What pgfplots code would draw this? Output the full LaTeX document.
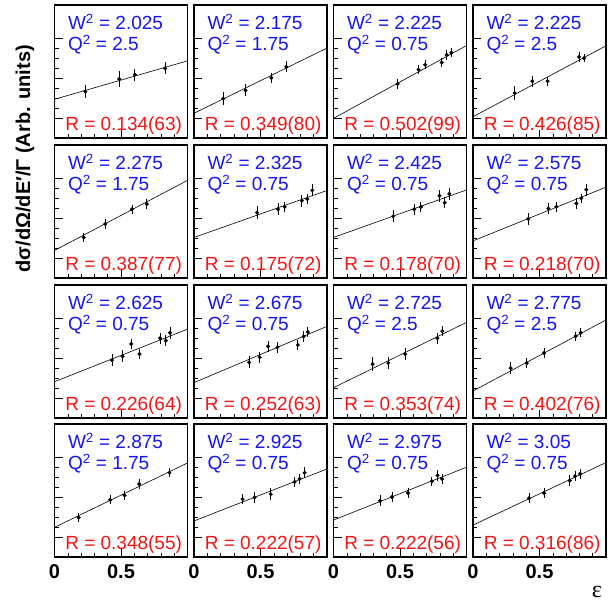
\documentclass[border=0pt]{standalone}
\usepackage{pgfplots}
\pgfplotsset{compat=1.18}
\usepackage{fontspec}
\setmainfont{Liberation Sans}
\newfontfamily\seriffont{Liberation Serif}
\definecolor{rootblue}{RGB}{20,20,245}
\definecolor{rootred}{RGB}{245,20,20}
\pgfplotsset{
  panel/.style={
    scale only axis, width=133pt, height=133pt, anchor=south west,
    xmin=0, xmax=1, ymin=0, ymax=1,
    axis line style={line width=1.3pt},
    xtick={0,0.5,1}, minor x tick num=4,
    ytick={0.15,0.45,0.75}, minor y tick num=3,
    tick align=inside, xtick pos=left, ytick pos=left,
    major tick length=8pt, minor tick length=4pt,
    tick style={black, line width=0.6pt},
    xticklabels={}, yticklabels={},
    clip=true,
  },
  bottomrow/.style={
    xticklabels={\textbf{0},\textbf{0.5},},
    xticklabel style={font=\fontsize{20}{22}\selectfont, yshift=-4pt},
  },
}
% #1 axis options, #2 W, #3 Q, #4 R, #5 line at 0, #6 line at 1, #7 points
\newcommand{\panel}[7]{%
\begin{axis}[panel,#1]
\addplot[black, line width=0.6pt] coordinates {(0,#5) (1,#6)};
\addplot[black, only marks, mark=*, mark size=1.8pt,
  error bars/.cd, y dir=both, y explicit, error mark=none,
  error bar style={line width=0.8pt}] coordinates {#7};
\node[anchor=base west, text=rootblue, inner sep=0pt, font=\fontsize{19}{20}\selectfont] at (rel axis cs:0.10,0.815) {W\textsuperscript{2} = #2};
\node[anchor=base west, text=rootblue, inner sep=0pt, font=\fontsize{19}{20}\selectfont] at (rel axis cs:0.10,0.655) {Q\textsuperscript{2} = #3};
\node[anchor=base east, text=rootred, inner sep=0pt, font=\fontsize{19}{20}\selectfont] at (rel axis cs:0.96,0.055) {R = #4};
\end{axis}}
\begin{document}
\begin{tikzpicture}
\path[use as bounding box] (0pt,0pt) rectangle (610pt,606pt);
% row 1
\panel{at={(54.5pt,468pt)}}{2.025}{2.5}{0.134(63)}{0.291}{0.58}{(0.232,0.35) +- (0,0.05) (0.487,0.444) +- (0,0.06) (0.604,0.477) +- (0,0.045) (0.831,0.523) +- (0,0.045)}
\panel{at={(194pt,468pt)}}{2.175}{1.75}{0.349(80)}{0.186}{0.676}{(0.22,0.296) +- (0,0.05) (0.387,0.358) +- (0,0.045) (0.582,0.452) +- (0,0.04) (0.694,0.536) +- (0,0.04)}
\panel{at={(333.5pt,468pt)}}{2.225}{0.75}{0.502(99)}{0.148}{0.695}{(0.482,0.407) +- (0,0.035) (0.639,0.514) +- (0,0.035) (0.689,0.551) +- (0,0.035) (0.814,0.568) +- (0,0.035) (0.851,0.625) +- (0,0.035) (0.886,0.642) +- (0,0.035)}
\panel{at={(473pt,468pt)}}{2.225}{2.5}{0.426(85)}{0.16}{0.693}{(0.313,0.338) +- (0,0.05) (0.446,0.427) +- (0,0.04) (0.561,0.427) +- (0,0.035) (0.797,0.61) +- (0,0.035) (0.835,0.6) +- (0,0.03)}
% row 2
\panel{at={(54.5pt,328pt)}}{2.275}{1.75}{0.387(77)}{0.207}{0.734}{(0.22,0.305) +- (0,0.035) (0.382,0.406) +- (0,0.04) (0.582,0.517) +- (0,0.035) (0.694,0.556) +- (0,0.035)}
\panel{at={(194pt,328pt)}}{2.325}{0.75}{0.175(72)}{0.305}{0.658}{(0.474,0.491) +- (0,0.05) (0.632,0.517) +- (0,0.045) (0.682,0.535) +- (0,0.04) (0.811,0.581) +- (0,0.045) (0.852,0.594) +- (0,0.04) (0.889,0.659) +- (0,0.045)}
\panel{at={(333.5pt,328pt)}}{2.425}{0.75}{0.178(70)}{0.305}{0.662}{(0.449,0.465) +- (0,0.045) (0.607,0.517) +- (0,0.04) (0.657,0.535) +- (0,0.04) (0.797,0.618) +- (0,0.045) (0.836,0.566) +- (0,0.04) (0.871,0.633) +- (0,0.045)}
\panel{at={(473pt,328pt)}}{2.575}{0.75}{0.218(70)}{0.279}{0.683}{(0.416,0.444) +- (0,0.045) (0.566,0.522) +- (0,0.04) (0.626,0.535) +- (0,0.04) (0.777,0.561) +- (0,0.04) (0.814,0.599) +- (0,0.035) (0.852,0.664) +- (0,0.045)}
% row 3
\panel{at={(54.5pt,188pt)}}{2.625}{0.75}{0.226(64)}{0.273}{0.668}{(0.432,0.435) +- (0,0.045) (0.512,0.463) +- (0,0.045) (0.577,0.557) +- (0,0.04) (0.639,0.481) +- (0,0.04) (0.794,0.6) +- (0,0.04) (0.837,0.582) +- (0,0.04) (0.869,0.641) +- (0,0.045)}
\panel{at={(194pt,188pt)}}{2.675}{0.75}{0.252(63)}{0.266}{0.689}{(0.414,0.418) +- (0,0.045) (0.494,0.456) +- (0,0.04) (0.557,0.539) +- (0,0.04) (0.627,0.532) +- (0,0.04) (0.781,0.549) +- (0,0.04) (0.824,0.613) +- (0,0.04) (0.856,0.646) +- (0,0.04)}
\panel{at={(333.5pt,188pt)}}{2.725}{2.5}{0.353(74)}{0.228}{0.719}{(0.294,0.405) +- (0,0.055) (0.412,0.413) +- (0,0.045) (0.539,0.481) +- (0,0.045) (0.781,0.6) +- (0,0.04) (0.818,0.653) +- (0,0.04)}
\panel{at={(473pt,188pt)}}{2.775}{2.5}{0.402(76)}{0.203}{0.737}{(0.283,0.375) +- (0,0.045) (0.404,0.413) +- (0,0.04) (0.534,0.489) +- (0,0.04) (0.772,0.615) +- (0,0.035) (0.81,0.641) +- (0,0.035)}
% row 4
\panel{at={(54.5pt,49pt)},bottomrow}{2.875}{1.75}{0.348(55)}{0.223}{0.707}{(0.182,0.296) +- (0,0.035) (0.419,0.43) +- (0,0.035) (0.527,0.463) +- (0,0.035) (0.637,0.549) +- (0,0.035) (0.864,0.633) +- (0,0.035)}
\panel{at={(194pt,49pt)},bottomrow}{2.925}{0.75}{0.222(57)}{0.271}{0.662}{(0.365,0.435) +- (0,0.04) (0.455,0.448) +- (0,0.04) (0.577,0.473) +- (0,0.045) (0.757,0.565) +- (0,0.04) (0.794,0.587) +- (0,0.035) (0.831,0.633) +- (0,0.04)}
\panel{at={(333.5pt,49pt)},bottomrow}{2.975}{0.75}{0.222(56)}{0.278}{0.675}{(0.35,0.423) +- (0,0.04) (0.44,0.451) +- (0,0.04) (0.56,0.481) +- (0,0.04) (0.739,0.57) +- (0,0.035) (0.782,0.615) +- (0,0.04) (0.816,0.587) +- (0,0.035)}
\panel{at={(473pt,49pt)},bottomrow}{3.05}{0.75}{0.316(86)}{0.24}{0.71}{(0.421,0.443) +- (0,0.035) (0.534,0.481) +- (0,0.04) (0.727,0.575) +- (0,0.04) (0.767,0.608) +- (0,0.035) (0.805,0.625) +- (0,0.035)}
% titles
\node[rotate=90, anchor=base east, inner sep=0pt, font=\fontsize{20}{22}\selectfont\bfseries] at (30pt,561pt) {dσ/dΩ/dE′/Γ (Arb. units)};
\node[anchor=center, inner sep=0pt, font=\fontsize{24}{26}\selectfont\seriffont] at (597pt,14pt) {ε};
\end{tikzpicture}
\end{document}
